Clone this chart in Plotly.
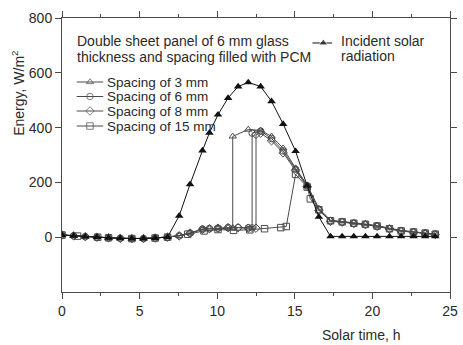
import plotly.graph_objects as go

# ---- data ----
t_inc = [0, 0.75, 1.5, 2.25, 3.0, 3.75, 4.5, 5.25, 6.0, 6.8, 7.55, 8.25, 9.05, 9.5, 10.05, 10.7,
         11.35, 12.0, 12.8, 13.5, 14.25, 15.05, 15.8, 16.55, 17.3, 18.05, 18.8, 19.55, 20.3,
         21.1, 21.85, 22.65, 23.4, 24.05]
e_inc = [8, 5, 2, 0, -2, -4, -5, -5, -3, 0, 78, 193, 316, 381, 447, 508,
         550, 565, 550, 496, 413, 314, 187, 74, 3, 3, 3, 3, 3,
         3, 3, 3, 3, 3]

t_3 = [0, 0.75, 1.5, 2.25, 3.0, 3.75, 4.5, 5.25, 6.0, 6.8, 7.55, 8.25, 9.05, 9.5, 10.05, 10.7,
       11.0, 11.0, 12.0, 12.8, 13.5, 14.25, 15.05, 15.8, 16.55, 17.3, 18.05, 18.8, 19.55,
       20.3, 21.1, 21.85, 22.65, 23.4, 24.05]
e_3 = [8, 5, 2, 0, -2, -4, -5, -5, -3, 0, 5, 15, 29, 31, 33, 35,
       34, 368, 393, 390, 368, 325, 252, 190, 105, 62, 58, 53, 48,
       42, 33, 25, 20, 15, 10]

t_6 = [0, 0.75, 1.5, 2.25, 3.0, 3.75, 4.5, 5.25, 6.0, 6.8, 7.55, 8.25, 9.05, 9.5, 10.05, 10.7,
       11.35, 12.0, 12.25, 12.25, 12.8, 13.5, 14.25, 15.05, 15.8, 16.55, 17.3, 18.05, 18.8,
       19.55, 20.3, 21.1, 21.85, 22.65, 23.4, 24.05]
e_6 = [8, 5, 2, 0, -2, -4, -5, -5, -3, 0, 5, 15, 29, 31, 33, 35,
       35, 34, 34, 380, 387, 360, 315, 248, 188, 100, 60, 56, 51,
       47, 41, 31, 23, 19, 15, 11]

t_8 = [0, 0.75, 1.5, 2.25, 3.0, 3.75, 4.5, 5.25, 6.0, 6.8, 7.55, 8.25, 9.05, 9.5, 10.05, 10.7,
       11.35, 12.0, 12.5, 12.5, 12.8, 13.5, 14.25, 15.05, 15.8, 16.55, 17.3, 18.05, 18.8,
       19.55, 20.3, 21.1, 21.85, 22.65, 23.4, 24.05]
e_8 = [8, 5, 2, 0, -2, -4, -5, -5, -3, 0, 5, 15, 29, 31, 33, 35,
       35, 33, 33, 375, 380, 352, 308, 243, 185, 98, 58, 55, 50,
       46, 40, 30, 22, 18, 14, 10]

t_15 = [0, 1.0, 2.3, 3.0, 4.5, 6.0, 6.8, 8.1, 9.15, 10.05, 11.05, 12.1, 13.05, 14.1, 14.45,
        15.05, 15.8, 16.0, 16.55, 17.3, 18.05, 18.8, 19.55, 20.3, 21.1, 21.85, 22.65, 23.4, 24.05]
e_15 = [8, 4, 0, -2, -5, -3, 0, 11, 23, 28, 25, 27, 31, 35, 39,
        229, 183, 140, 100, 60, 56, 51, 47, 41, 31, 23, 19, 15, 11]

series_names = ["Spacing of 3 mm", "Spacing of 6 mm", "Spacing of 8 mm", "Spacing of 15 mm"]
series_symbols = ["triangle-up-open", "circle-open", "diamond-open", "square-open"]
x_ticks = [0, 5, 10, 15, 20, 25]
y_ticks = [0, 200, 400, 600, 800]

FONT = "Liberation Sans, Arial, sans-serif"
GRAY = "#4a4a4a"
TXT = "#2a2a2a"

fig = go.Figure()

for t, e, name, sym in zip([t_3, t_6, t_8, t_15], [e_3, e_6, e_8, e_15], series_names, series_symbols):
    fig.add_trace(go.Scatter(x=t, y=e, mode="lines+markers", name=name, showlegend=False,
                             line=dict(color=GRAY, width=1),
                             marker=dict(symbol=sym, size=6.5, color=GRAY, line=dict(width=1, color=GRAY))))

fig.add_trace(go.Scatter(x=t_inc, y=e_inc, mode="lines+markers", name="Incident solar radiation",
                         showlegend=False, line=dict(color="#111", width=1),
                         marker=dict(symbol="triangle-up", size=7.5, color="#111")))

# ---- custom legend on a pixel-space overlay axis ----
leg_y = [82, 96.5, 111, 126]
for yy, name, sym in zip(leg_y, series_names, series_symbols):
    fig.add_trace(go.Scatter(x=[77, 90.5, 104], y=[yy, yy, yy], xaxis="x2", yaxis="y2",
                             mode="lines+markers", showlegend=False, hoverinfo="skip",
                             line=dict(color=GRAY, width=1),
                             marker=dict(symbol=sym, size=[0, 6.5, 0], color=GRAY,
                                         line=dict(width=1, color=GRAY))))
    fig.add_annotation(x=106, y=yy, xref="x2", yref="y2", text=name, showarrow=False,
                       xanchor="left", yanchor="middle", font=dict(family=FONT, size=13.5, color=TXT))

fig.add_trace(go.Scatter(x=[317, 328, 337], y=[43, 43, 43], xaxis="x2", yaxis="y2",
                         mode="lines+markers", showlegend=False, hoverinfo="skip",
                         line=dict(color="#111", width=1),
                         marker=dict(symbol="triangle-up", size=[0, 8, 0], color="#111")))
fig.add_annotation(x=344, y=41, xref="x2", yref="y2", text="Incident solar", showarrow=False,
                   xanchor="left", yanchor="middle", font=dict(family=FONT, size=14, color=TXT))
fig.add_annotation(x=344, y=56, xref="x2", yref="y2", text="radiation", showarrow=False,
                   xanchor="left", yanchor="middle", font=dict(family=FONT, size=14, color=TXT))
fig.add_annotation(x=75, y=41, xref="x2", yref="y2", text="Double sheet panel of 6 mm glass",
                   showarrow=False, xanchor="left", yanchor="middle",
                   font=dict(family=FONT, size=14, color=TXT))
fig.add_annotation(x=75, y=56.5, xref="x2", yref="y2", text="thickness and spacing filled with PCM",
                   showarrow=False, xanchor="left", yanchor="middle",
                   font=dict(family=FONT, size=14, color=TXT))

# axis titles (paper coords: plot area spans px 62..457 horizontally, 18..292 vertically)
fig.add_annotation(x=(367 - 62) / 395, y=(292 - 335) / 274, xref="paper", yref="paper",
                   text="Solar time, h", showarrow=False, xanchor="center", yanchor="middle",
                   font=dict(family=FONT, size=14, color=TXT))
fig.add_annotation(x=(17 - 62) / 395, y=(292 - 93) / 274, xref="paper", yref="paper",
                   text="Energy, W/m<sup>2</sup>", showarrow=False, textangle=-90,
                   xanchor="center", yanchor="middle", font=dict(family=FONT, size=14, color=TXT))

fig.update_layout(
    width=463, height=345,
    margin=dict(l=62, r=6, t=18, b=53),
    paper_bgcolor="white", plot_bgcolor="white",
    font=dict(family=FONT, size=14, color=TXT),
    xaxis=dict(range=[0, 25], tickvals=x_ticks, showline=True, linecolor=GRAY, linewidth=1,
               mirror="ticks", ticks="outside", ticklen=6, tickcolor=GRAY, showgrid=False,
               zeroline=False, tickfont=dict(size=14, color=TXT),
               minor=dict(tickvals=[2.5, 7.5, 12.5, 17.5, 22.5], ticks="outside", ticklen=3,
                          tickcolor=GRAY, showgrid=False)),
    yaxis=dict(range=[-200, 800], tickvals=y_ticks, showline=True,
               linecolor=GRAY, linewidth=1, mirror="ticks", ticks="outside", ticklen=6,
               tickcolor=GRAY, showgrid=False, zeroline=False, tickfont=dict(size=14, color=TXT)),
    xaxis2=dict(overlaying="x", range=[62, 457], showticklabels=False, ticks="", showline=False,
                showgrid=False, zeroline=False),
    yaxis2=dict(overlaying="y", range=[292, 18], showticklabels=False, ticks="", showline=False,
                showgrid=False, zeroline=False),
    showlegend=False,
)

fig.write_html("out.html")
